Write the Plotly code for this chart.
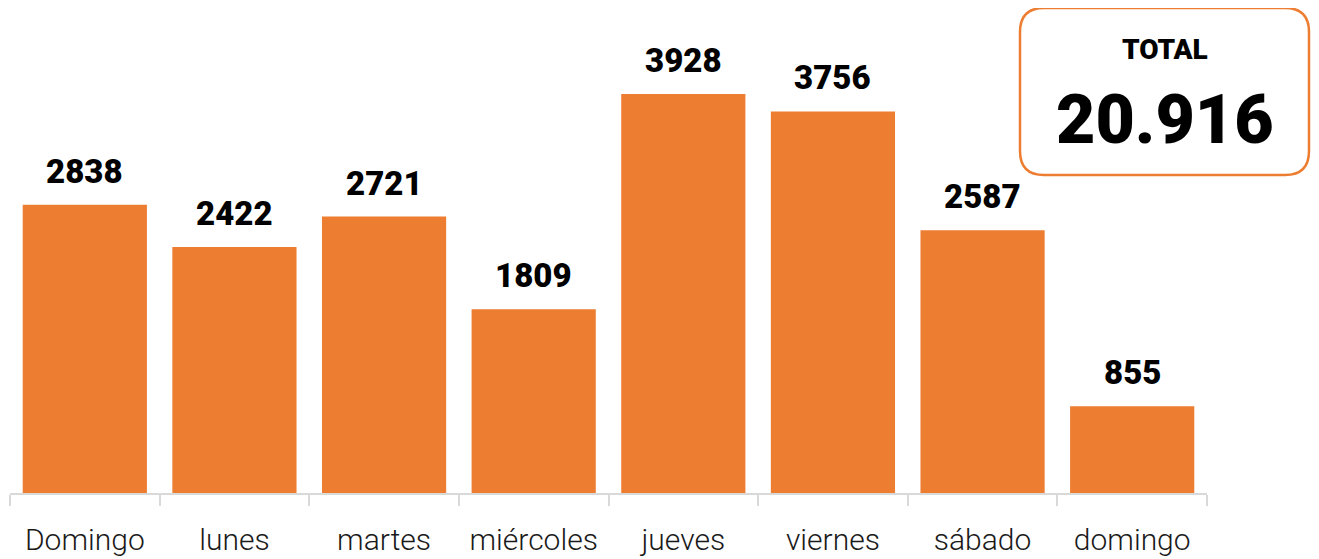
import plotly.graph_objects as go

days = ["Domingo", "lunes", "martes", "miércoles", "jueves", "viernes", "sábado", "domingo"]
counts = [2838, 2422, 2721, 1809, 3928, 3756, 2587, 855]
total_label = "TOTAL"

BAR = "#ED7D31"
GREY = "#d9d9d9"

OFF = 8  # page body margin
W, H = 1319 - OFF, 559 - OFF
M_L, M_R, M_T, M_B = 10 - OFF, 112, 10 - OFF, 66
PW, PH = W - M_L - M_R, H - M_T - M_B


def px(x, y):
    # page pixel position -> paper coords
    return (x - OFF - M_L) / PW, (H - M_B - (y - OFF)) / PH


fig = go.Figure()
fig.add_trace(go.Bar(x=days, y=counts, marker=dict(color=BAR, line=dict(width=0)),
                     hoverinfo="x+y"))

for d, v in zip(days, counts):
    fig.add_annotation(x=d, y=v, text=str(v), showarrow=False, yanchor="bottom", yshift=12,
                       font=dict(family="Roboto", size=33, color="black", weight=900))

# rounded box for the total
x0, y0, x1, y1, r = 1020, 8, 1309, 175, 24
path = (
    "M {} {} L {} {} Q {} {} {} {} L {} {} Q {} {} {} {} L {} {} Q {} {} {} {} L {} {} Q {} {} {} {} Z"
).format(
    *px(x0 + r, y0), *px(x1 - r, y0), *px(x1, y0), *px(x1, y0 + r),
    *px(x1, y1 - r), *px(x1, y1), *px(x1 - r, y1),
    *px(x0 + r, y1), *px(x0, y1), *px(x0, y1 - r),
    *px(x0, y0 + r), *px(x0, y0), *px(x0 + r, y0),
)
fig.add_shape(type="path", path=path, xref="paper", yref="paper",
              line=dict(color=BAR, width=2.5), fillcolor="white")

cx, ty = px((x0 + x1) / 2, 50)
_, vy = px(0, 120)
fig.add_annotation(x=cx, y=ty, xref="paper", yref="paper", text=total_label, showarrow=False,
                   xanchor="center", yanchor="middle",
                   font=dict(family="Roboto", size=28, color="black", weight=900))
fig.add_annotation(x=cx, y=vy, xref="paper", yref="paper",
                   text=f"{sum(counts):,}".replace(",", "."), showarrow=False,
                   xanchor="center", yanchor="middle",
                   font=dict(family="Roboto", size=68, color="black", weight=900))

fig.update_layout(
    width=W, height=H,
    margin=dict(l=M_L, r=M_R, t=M_T, b=M_B, pad=0),
    paper_bgcolor="white", plot_bgcolor="white",
    bargap=0.17, showlegend=False,
    xaxis=dict(showline=True, linecolor=GREY, linewidth=2, ticks="outside", tickson="boundaries",
               ticklen=11, tickwidth=2, tickcolor=GREY, showgrid=False, ticklabelstandoff=19,
               tickfont=dict(family="Roboto Light, Roboto", size=30, color="#1a1a1a", weight=300)),
    yaxis=dict(visible=False, range=[0, PH / (399 / 3928)], showgrid=False, zeroline=False),
)

fig.write_html("out.html")
